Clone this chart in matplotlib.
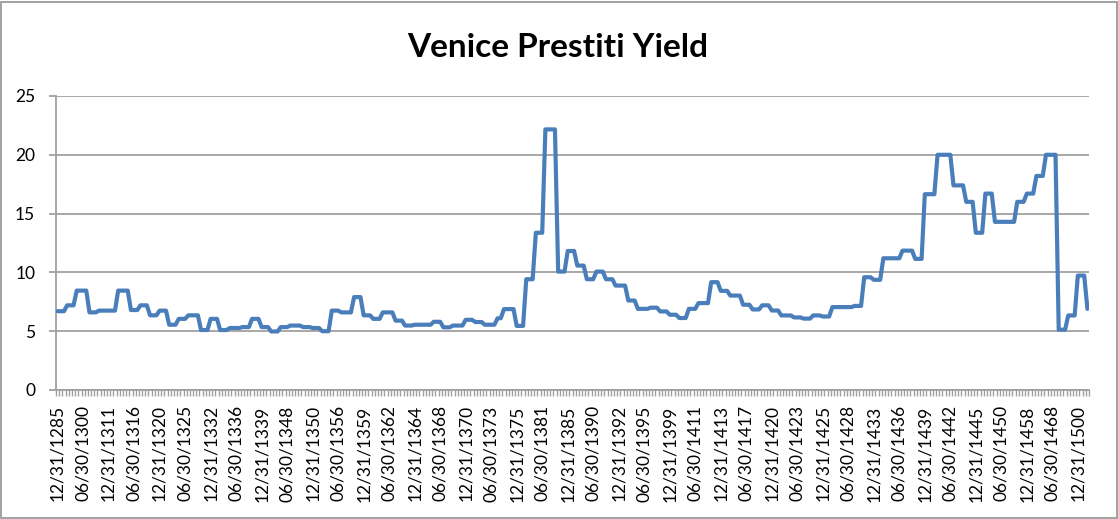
import numpy as np
import matplotlib
matplotlib.use("Agg")
import matplotlib.pyplot as plt
from matplotlib.patches import Rectangle

# ---- data ----
levels = [6.7, 7.2, 8.45, 6.6, 6.75, 8.45, 6.8, 7.2, 6.35, 6.75,
          5.55, 6.05, 6.35, 5.1, 6.05, 5.1, 5.27, 5.35, 6.05, 5.35,
          4.98, 5.35, 5.48, 5.35, 5.27, 5.0, 6.75, 6.6, 7.9, 6.35,
          6.05, 6.6, 5.9, 5.48, 5.55, 5.8, 5.33, 5.48, 5.97, 5.78,
          5.55, 6.1, 6.88, 5.45, 9.42, 13.37, 22.16, 10.07, 11.82, 10.58,
          9.42, 10.07, 9.42, 8.88, 7.61, 6.9, 7.0, 6.68, 6.4, 6.12,
          6.9, 7.39, 9.17, 8.43, 8.03, 7.25, 6.85, 7.2, 6.76, 6.34,
          6.17, 6.07, 6.34, 6.25, 7.05, 7.15, 9.59, 9.37, 11.2, 11.85,
          11.15, 16.65, 20.0, 17.4, 16.0, 13.37, 16.7, 14.3, 16.0, 16.7,
          18.2, 20.0, 5.13, 6.34, 9.73, 6.9]
run_lengths = [3, 3, 4, 3, 6, 4, 3, 3, 3, 3,
               3, 3, 4, 3, 3, 3, 4, 3, 3, 3,
               3, 3, 4, 3, 3, 3, 3, 4, 3, 3,
               3, 4, 3, 3, 6, 3, 3, 4, 3, 3,
               4, 2, 4, 3, 3, 3, 4, 3, 3, 3,
               3, 3, 3, 4, 3, 4, 3, 3, 3, 3,
               3, 4, 3, 3, 4, 3, 3, 3, 3, 4,
               3, 3, 3, 3, 7, 3, 3, 3, 6, 4,
               3, 4, 5, 4, 3, 3, 3, 7, 3, 3,
               3, 4, 3, 3, 3, 1]
yields = np.repeat(levels, run_lengths)

date_labels = ["12/31/1285", "06/30/1300", "12/31/1311", "06/30/1316", "12/31/1320",
               "06/30/1325", "12/31/1332", "06/30/1336", "12/31/1339", "06/30/1348",
               "12/31/1350", "06/30/1356", "12/31/1359", "06/30/1362", "12/31/1364",
               "06/30/1368", "12/31/1370", "06/30/1373", "12/31/1375", "06/30/1381",
               "12/31/1385", "06/30/1390", "12/31/1392", "06/30/1395", "12/31/1399",
               "06/30/1411", "12/31/1413", "06/30/1417", "12/31/1420", "06/30/1423",
               "12/31/1425", "06/30/1428", "12/31/1433", "06/30/1436", "12/31/1439",
               "06/30/1442", "12/31/1445", "06/30/1450", "12/31/1458", "06/30/1468",
               "12/31/1500"]
label_step = 8
y_ticks = [0, 5, 10, 15, 20, 25]
title = "Venice Prestiti Yield"

# ---- figure ----
W, H = 1118, 519
fig = plt.figure(figsize=(W / 100, H / 100), dpi=100)
fig.patch.set_facecolor("white")
fig.patches.append(Rectangle((1 / W, 1 / H), 1 - 2.5 / W, 1 - 2.5 / H,
                             transform=fig.transFigure, fill=False,
                             edgecolor="#9A9A9A", lw=1.3))

ax = fig.add_axes([56 / W, (H - 390) / H, 1033 / W, 294 / H])
x = np.arange(len(yields))
ax.plot(x, yields, color="#4A7EBB", lw=3.0, solid_joinstyle="round",
        solid_capstyle="round", zorder=3)
ax.set_xlim(-0.5, len(yields) - 0.5)
ax.set_ylim(0, 25)

grid_c = "#A0A0A0"
ax.set_yticks(y_ticks)
ax.yaxis.grid(True, color=grid_c, lw=1.3)
ax.set_axisbelow(True)
for s in ["top", "right"]:
    ax.spines[s].set_visible(False)
for s in ["left", "bottom"]:
    ax.spines[s].set_color(grid_c)
    ax.spines[s].set_linewidth(1.3)

ax.set_xticks(x[::label_step][:len(date_labels)])
ax.set_xticklabels(date_labels, rotation=90, family="Lato", fontsize=12.5,
                   va="top", ha="center")
ax.set_xticks(np.arange(len(yields) + 1) - 0.5, minor=True)
ax.tick_params(axis="x", which="major", length=0, pad=11)
ax.tick_params(axis="x", which="minor", length=4, width=1, color=grid_c,
               direction="out")
ax.tick_params(axis="y", which="major", length=5, width=1.3, color=grid_c,
               direction="out", pad=10, labelsize=12.5)
for lab in ax.get_yticklabels():
    lab.set_family("Lato")

fig.text(558 / W, 1 - 47.5 / H, title, ha="center", va="center",
         family="Lato", fontweight="bold", fontsize=24)

fig.savefig("out.png", dpi=100, facecolor="white")
